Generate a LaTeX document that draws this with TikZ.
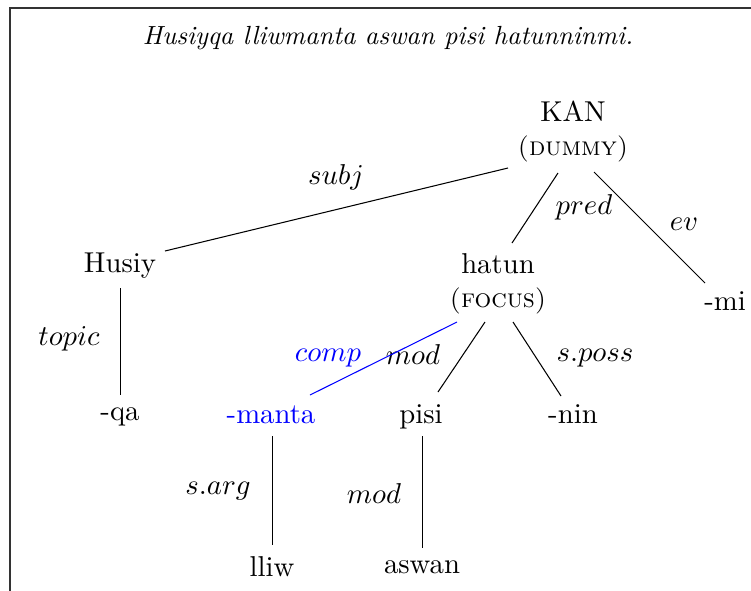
\documentclass[tikz,border=0pt,11pt]{standalone}
\usepackage{tikz}

\begin{document}
\begin{tikzpicture}[
  x=0.381pt, y=-0.381pt,
  word/.style={inner sep=0pt, anchor=base, align=center},
  rel/.style={inner sep=0pt, anchor=base, execute at begin node=$, execute at end node=$},
  arc/.style={line width=0.4pt},
  hl/.style={blue}
]
\useasboundingbox (0,0) rectangle (751,590);
\draw[line width=0.5pt, black!80] (10,8) rectangle (780,620);
\node[word, font=\small\itshape] (title) at (388,44) {Husiyqa lliwmanta aswan pisi hatunninmi.};
% words
\node[word] (kan) at (573,155) {KAN\\[-1pt]{\small\textsc{(dummy)}}};
\node[word] (husiy) at (120,272) {Husiy};
\node[word] (hatun) at (498,307) {hatun\\[-1pt]{\small\textsc{(focus)}}};
\node[word] (mi) at (725,310) {-mi};
\node[word] (qa) at (120,420) {-qa};
\node[word, hl] (manta) at (271,423) {-manta};
\node[word] (pisi) at (421,423) {pisi};
\node[word] (nin) at (573,423) {-nin};
\node[word] (lliw) at (272,576) {lliw};
\node[word] (aswan) at (422,573) {aswan};
% relations
\node[rel] (lsubj) at (336,184) {subj};
\node[rel] (lpred) at (584,214) {pred};
\node[rel] (lev) at (684,230) {ev};
\node[rel] (ltopic) at (69,345) {topic};
\node[rel, hl] (lcomp) at (328,361) {comp};
\node[rel] (lmod) at (413,364) {mod};
\node[rel] (lsposs) at (595,361) {s.poss};
\node[rel] (lsarg) at (218,494) {s.arg};
\node[rel] (lmodb) at (374,503) {mod};
% arcs
\draw[arc] ([shift={(-65,13)}]kan.base) -- ([shift={(45,-21)}]husiy.base);
\draw[arc] ([shift={(-15,18)}]kan.base) -- ([shift={(14,-64)}]hatun.base);
\draw[arc] ([shift={(21,17)}]kan.base) -- ([shift={(-20,-27)}]mi.base);
\draw[arc] ([shift={(0.5,16)}]husiy.base) -- ([shift={(0.5,-25)}]qa.base);
\draw[arc, hl] ([shift={(-41,15)}]hatun.base) -- ([shift={(39,-28)}]manta.base);
\draw[arc] ([shift={(-13,15)}]hatun.base) -- ([shift={(17,-31)}]pisi.base);
\draw[arc] ([shift={(15,15)}]hatun.base) -- ([shift={(-12,-27)}]nin.base);
\draw[arc] ([shift={(1.5,13)}]manta.base) -- ([shift={(0.5,-31)}]lliw.base);
\draw[arc] ([shift={(1.5,13)}]pisi.base) -- ([shift={(0.5,-25)}]aswan.base);
\end{tikzpicture}
\end{document}
